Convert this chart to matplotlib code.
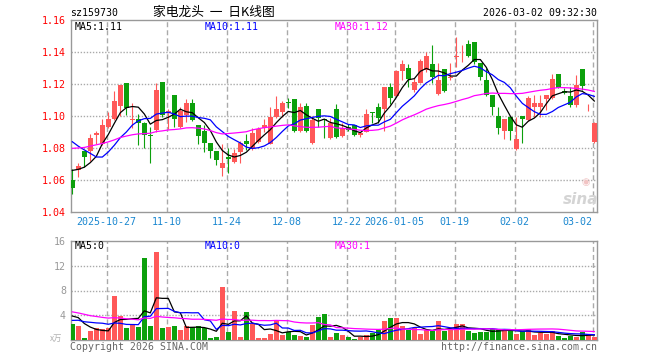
import pandas as pd
import matplotlib
matplotlib.use('Agg')
import matplotlib.pyplot as plt

# daily K line of sz159730, 2025-10-17 .. 2026-03-02
opens = [1.0600, 1.0665, 1.0783, 1.0785, 1.0883, 1.0827, 1.0931, 1.0983, 1.1067, 1.1210,
         1.0977, 1.0983, 1.0960, 1.0883, 1.0915, 1.1213, 1.1023, 1.1133, 1.0931, 1.1008,
         1.1085, 1.0946, 1.0910, 1.0831, 1.0783, 1.0679, 1.0744, 1.0717, 1.0779, 1.0846,
         1.0794, 1.0842, 1.0925, 1.0827, 1.0994, 1.1029, 1.1088, 1.1108, 1.0910, 1.1065,
         1.0835, 1.1046, 1.0983, 1.0863, 1.1046, 1.0877, 1.0935, 1.0946, 1.0883, 1.0904,
         1.1025, 1.1056, 1.1046, 1.1181, 1.1127, 1.1285, 1.1304, 1.1165, 1.1210, 1.1290,
         1.1327, 1.1137, 1.1296, 1.1238, 1.1369, 1.1431, 1.1452, 1.1465, 1.1335, 1.1227,
         1.1133, 1.1004, 1.0910, 1.0994, 1.0796, 1.1004, 1.0977, 1.1060, 1.1060, 1.1108,
         1.1113, 1.1265, 1.1158, 1.1127, 1.1071, 1.1294, 1.1056, 1.0838]
closes = [1.0550, 1.0692, 1.0748, 1.0863, 1.0894, 1.0946, 1.0981, 1.1096, 1.1196, 1.1050,
          1.0983, 1.0960, 1.0883, 1.0879, 1.1165, 1.1008, 1.1035, 1.0981, 1.1033, 1.1085,
          1.0977, 1.0877, 1.0835, 1.0783, 1.0727, 1.0710, 1.0735, 1.0773, 1.0831, 1.0827,
          1.0894, 1.0921, 1.0946, 1.0994, 1.1046, 1.1085, 1.1081, 1.0910, 1.1060, 1.0910,
          1.0977, 1.0988, 1.0977, 1.0956, 1.0869, 1.0925, 1.0915, 1.0883, 1.0898, 1.1015,
          1.1019, 1.0988, 1.1181, 1.1117, 1.1285, 1.1327, 1.1231, 1.1217, 1.1346, 1.1377,
          1.1248, 1.1227, 1.1158, 1.1248, 1.1377, 1.1435, 1.1377, 1.1337, 1.1248, 1.1133,
          1.1056, 1.0925, 1.0983, 1.0910, 1.0858, 1.0983, 1.1113, 1.1081, 1.1081, 1.1133,
          1.1231, 1.1179, 1.1144, 1.1071, 1.1196, 1.1190, 1.1060, 1.0960]
highs = [1.0670, 1.0706, 1.0785, 1.0890, 1.0910, 1.0983, 1.1029, 1.1158, 1.1198, 1.1210,
         1.1081, 1.1015, 1.0962, 1.0935, 1.1206, 1.1213, 1.1044, 1.1133, 1.1060, 1.1108,
         1.1108, 1.0946, 1.0946, 1.0831, 1.0783, 1.0827, 1.0800, 1.0794, 1.0846, 1.0888,
         1.0925, 1.0931, 1.0983, 1.1060, 1.1127, 1.1096, 1.1113, 1.1108, 1.1081, 1.1081,
         1.1002, 1.1046, 1.0983, 1.0988, 1.1077, 1.0960, 1.0950, 1.0946, 1.0904, 1.1046,
         1.1025, 1.1081, 1.1181, 1.1206, 1.1287, 1.1352, 1.1327, 1.1238, 1.1358, 1.1404,
         1.1446, 1.1331, 1.1296, 1.1331, 1.1494, 1.1444, 1.1477, 1.1465, 1.1335, 1.1300,
         1.1133, 1.1060, 1.0985, 1.0994, 1.0994, 1.1004, 1.1127, 1.1133, 1.1133, 1.1135,
         1.1263, 1.1265, 1.1175, 1.1185, 1.1258, 1.1294, 1.1077, 1.0963]
lows = [1.0515, 1.0623, 1.0686, 1.0723, 1.0827, 1.0821, 1.0929, 1.0977, 1.1002, 1.1008,
        1.0925, 1.0821, 1.0804, 1.0706, 1.0904, 1.0994, 1.0919, 1.0931, 1.0925, 1.0967,
        1.0973, 1.0827, 1.0779, 1.0738, 1.0696, 1.0629, 1.0644, 1.0710, 1.0710, 1.0790,
        1.0790, 1.0831, 1.0904, 1.0827, 1.0988, 1.0998, 1.1050, 1.0904, 1.0904, 1.0904,
        1.0827, 1.0931, 1.0863, 1.0858, 1.0863, 1.0873, 1.0910, 1.0877, 1.0873, 1.0900,
        1.0960, 1.0956, 1.0910, 1.1077, 1.1123, 1.1227, 1.1185, 1.1154, 1.1206, 1.1279,
        1.1206, 1.1133, 1.1154, 1.1227, 1.1310, 1.1342, 1.1373, 1.1330, 1.1227, 1.1129,
        1.1008, 1.0890, 1.0856, 1.0852, 1.0790, 1.0831, 1.0973, 1.0994, 1.0994, 1.1040,
        1.1108, 1.1175, 1.1140, 1.1060, 1.1060, 1.1165, 1.1035, 1.0831]
# volume, 万
volumes = [2.61, 2.29, 0.37, 1.55, 1.92, 1.81, 1.92, 7.09, 3.95, 2.03,
           2.40, 2.13, 13.17, 2.29, 14.13, 1.97, 2.13, 2.29, 1.65, 2.29,
           2.08, 2.29, 1.92, 0.43, 0.53, 8.53, 1.39, 4.69, 0.53, 4.53,
           2.67, 0.43, 0.43, 1.01, 3.25, 0.85, 1.28, 0.85, 0.75, 0.53,
           2.45, 3.68, 4.16, 0.53, 1.17, 0.85, 0.53, 0.21, 0.59, 0.85,
           1.17, 1.71, 3.09, 3.57, 3.57, 2.29, 1.71, 2.03, 1.01, 1.65,
           1.49, 3.09, 1.49, 1.76, 2.61, 2.61, 1.49, 1.23, 1.39, 1.33,
           1.76, 1.76, 1.65, 1.49, 1.01, 1.49, 1.81, 0.91, 1.23, 1.01,
           1.49, 0.69, 0.43, 0.69, 0.59, 1.33, 1.01, 0.59]

# 29 sessions before the window (not shown), guessed from where the MA lines start
prev_close = [1.062, 1.065, 1.060, 1.066, 1.070, 1.068, 1.072, 1.075, 1.078, 1.074,
              1.080, 1.083, 1.081, 1.085, 1.088, 1.086, 1.090, 1.092, 1.089, 1.094,
              1.097, 1.098, 1.108, 1.112, 1.095, 1.066, 1.068, 1.072, 1.070]
prev_vol = [7.5, 6.8, 8.2, 5.9, 6.1, 5.4, 4.8, 6.3, 5.0, 4.6,
            5.2, 4.1, 4.4, 3.9, 5.6, 4.3, 3.8, 4.7, 3.6, 4.8,
            2.1, 2.8, 2.4, 2.9, 2.3, 3.6, 5.1, 4.4, 3.8]

tick_pos = [6, 16, 26, 36, 46, 54, 64, 74, 87]
tick_labels = ['2025-10-27', '11-10', '11-24', '12-08', '12-22',
               '2026-01-05', '01-19', '02-02', '03-02']

RED = '#ff5858'
GREEN = '#0ca00c'
GRID = '#aaaaaa'
MONO = 'DejaVu Sans Mono'
CJK = ['Noto Sans CJK SC', 'DejaVu Sans']
W, H = 660, 360


def px(x, y):
    # pixel position (from top-left) -> figure fraction
    return x / W, 1 - y / H


def moving_averages(prev, vals):
    s = pd.Series(prev + vals)
    n = len(prev)
    return [s.rolling(k).mean().iloc[n:].values for k in (5, 10, 30)]


df = pd.DataFrame({'open': opens, 'close': closes, 'high': highs, 'low': lows, 'vol': volumes})
df['up'] = df['close'] >= df['open']
colors = [RED if u else GREEN for u in df['up']]
x = list(range(len(df)))

fig = plt.figure(figsize=(6.6, 3.6), dpi=100)
l, b = px(70.7, 212.3)
ax = fig.add_axes([l, b, 526.6 / W, 192 / H])
l, b = px(70.7, 340.3)
axv = fig.add_axes([l, b, 526.6 / W, 99.6 / H])

# candles
body_bottom = df[['open', 'close']].min(axis=1)
body_h = (df['close'] - df['open']).abs().clip(lower=0.0004)
ax.vlines(x, df['low'], df['high'], colors=colors, lw=0.8, zorder=3)
ax.bar(x, body_h, bottom=body_bottom, width=0.78, color=colors, lw=0, zorder=4)

ma5, ma10, ma30 = moving_averages(prev_close, closes)
ax.plot(x, ma5, color='black', lw=0.9, zorder=5)
ax.plot(x, ma10, color='#0000ff', lw=0.9, zorder=5)
ax.plot(x, ma30, color='#ff00ff', lw=0.9, zorder=5)

# volume
axv.bar(x, df['vol'], width=0.83, color=colors, lw=0, zorder=3)
vma5, vma10, vma30 = moving_averages(prev_vol, volumes)
axv.plot(x, vma5, color='black', lw=0.9, zorder=5)
axv.plot(x, vma10, color='#0000ff', lw=0.9, zorder=5)
axv.plot(x, vma30, color='#ff00ff', lw=0.9, zorder=5)

grid_x = [p - 0.3 for p in tick_pos]
for a in (ax, axv):
    a.set_xlim(-0.27, 87.5)
    for gx in grid_x:
        a.axvline(gx, color=GRID, lw=1, ls=(0, (3.6, 2.2)), zorder=1)
    for s in a.spines.values():
        s.set_color('#999999')
        s.set_linewidth(1)
    a.tick_params(length=0, labelsize=7.2, pad=3.4)

ax.set_ylim(1.04, 1.16)
for gy in [1.06, 1.08, 1.10, 1.12, 1.14]:
    ax.axhline(gy, color=GRID, lw=1, ls=(0, (1, 1.2)), zorder=1)
yt = [1.04, 1.06, 1.08, 1.10, 1.12, 1.14, 1.16]
ax.set_yticks(yt)
ax.set_yticklabels(['%.2f' % v for v in yt], color='#ff0000', family=MONO)
ax.set_xticks(grid_x)
ax.set_xticklabels(tick_labels, color='#1a87d0', family=MONO)
ax.get_xticklabels()[-1].set_ha('right')

axv.set_ylim(0, 16)
for gy in [4, 8, 12]:
    axv.axhline(gy, color=GRID, lw=1, ls=(0, (1, 1.2)), zorder=1)
axv.set_yticks([4, 8, 12, 16])
axv.set_yticklabels(['4', '8', '12', '16'], color='#999999', family=MONO)
axv.set_xticks([])

# header
fig.text(*px(70, 12.5), 'sz159730', family=MONO, size=7.1, va='center')
fig.text(*px(213.7, 12.5), '家电龙头  一  日K线图', family=CJK, size=9.2, ha='center', va='center')
fig.text(*px(596.7, 12.5), '2026-03-02 09:32:30', family=MONO, size=7.1, ha='right', va='center')

# MA captions
for (xx, yy, t, c) in [(75, 26.5, 'MA5:1.11', 'black'), (205, 26.5, 'MA10:1.11', '#0000ff'),
                       (335, 26.5, 'MA30:1.12', '#ff00ff'), (75, 246.3, 'MA5:0', 'black'),
                       (205, 246.3, 'MA10:0', '#0000ff'), (335, 246.3, 'MA30:1', '#ff00ff')]:
    fig.text(*px(xx, yy), t, family=MONO, size=7.1, color=c, va='center')

# watermark + footer
fig.text(*px(586, 182), '◉', color='#f2c4c4', size=7, ha='center', va='center')
fig.text(*px(581, 200), 'sina', color='#d4d4d4', size=11, weight='bold', style='italic',
         ha='center', va='center')
fig.text(*px(56.5, 338.5), 'x万', family=CJK, size=6, color='#b0b0b0', ha='center', va='center')
fig.text(*px(70, 346.5), 'Copyright 2026 SINA.COM', family=MONO, size=7.1, color='#666666',
         va='center')
fig.text(*px(596.7, 346.5), 'http://finance.sina.com.cn', family=MONO, size=7.1,
         color='#666666', ha='right', va='center')

fig.savefig('out.png', dpi=100)
plt.close(fig)
